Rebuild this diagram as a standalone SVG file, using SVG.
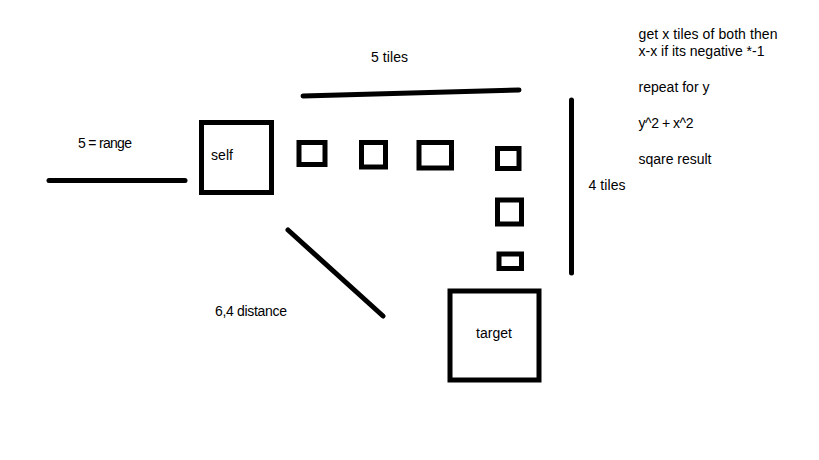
<svg xmlns="http://www.w3.org/2000/svg" width="819" height="460" viewBox="0 0 819 460">
<style>
.bx{fill:none;stroke:#000;stroke-width:5}
.ln{fill:none;stroke:#000;stroke-width:5;stroke-linecap:round}
text{font-family:"Liberation Sans",Arial,sans-serif;font-size:14px;fill:#000}
</style>
<rect width="819" height="460" fill="#fff"/>
<g id="connectors">
<line class="ln" x1="49" y1="180.5" x2="185" y2="180.5"/>
<line class="ln" x1="303" y1="96" x2="519" y2="90"/>
<line class="ln" x1="571.5" y1="100" x2="571.5" y2="273"/>
<line class="ln" x1="288" y1="230" x2="383" y2="316"/>
</g>
<g id="self"><rect class="bx" x="201.5" y="122.5" width="70" height="70"/><text x="211" y="160" textLength="22">self</text></g>
<g id="target"><rect class="bx" x="450" y="291" width="89" height="89"/><text x="476" y="337.5" textLength="36">target</text></g>
<g id="tile1"><rect class="bx" x="299" y="142.5" width="26" height="22"/></g>
<g id="tile2"><rect class="bx" x="361.5" y="142.5" width="24" height="24.5"/></g>
<g id="tile3"><rect class="bx" x="419" y="142.5" width="32.5" height="25.5"/></g>
<g id="tile4"><rect class="bx" x="497.5" y="148.5" width="21.5" height="20"/></g>
<g id="tile5"><rect class="bx" x="497.5" y="200" width="24" height="24"/></g>
<g id="tile6"><rect class="bx" x="499" y="254" width="22.5" height="14.5"/></g>
<g id="labels">
<text x="78" y="148" textLength="54">5 = range</text>
<text x="371" y="61.5" textLength="37">5 tiles</text>
<text x="588.5" y="189.5" textLength="37">4 tiles</text>
<text x="215" y="315.5" textLength="72">6,4 distance</text>
<text x="638.5" y="39" textLength="139">get x tiles of both then</text>
<text x="638.5" y="55.5" textLength="126">x-x if its negative *-1</text>
<text x="638.5" y="91.5" textLength="71">repeat for y</text>
<text x="638.5" y="127.5" textLength="55">y^2 + x^2</text>
<text x="638.5" y="164" textLength="73">sqare result</text>
</g>
</svg>
